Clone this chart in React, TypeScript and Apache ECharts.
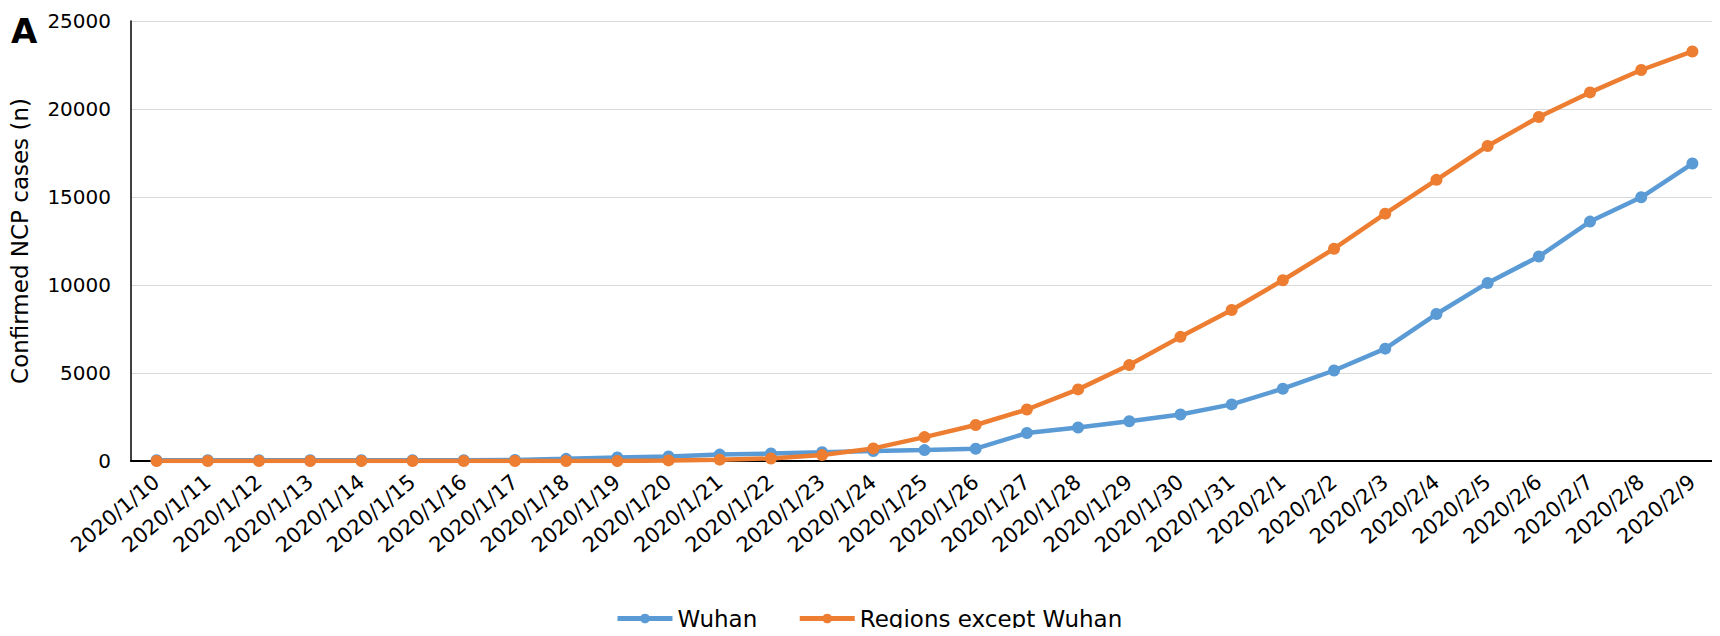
import React, { useEffect, useRef } from "react";
import * as echarts from "echarts";

const categories = [
  "2020/1/10", "2020/1/11", "2020/1/12", "2020/1/13", "2020/1/14", "2020/1/15", "2020/1/16",
  "2020/1/17", "2020/1/18", "2020/1/19", "2020/1/20", "2020/1/21", "2020/1/22", "2020/1/23",
  "2020/1/24", "2020/1/25", "2020/1/26", "2020/1/27", "2020/1/28", "2020/1/29", "2020/1/30",
  "2020/1/31", "2020/2/1", "2020/2/2", "2020/2/3", "2020/2/4", "2020/2/5", "2020/2/6",
  "2020/2/7", "2020/2/8", "2020/2/9",
];

const wuhan = [
  41, 41, 41, 41, 41, 41, 45, 62, 121, 198, 258, 363, 425, 495, 572, 618, 698, 1590, 1905,
  2261, 2639, 3215, 4109, 5142, 6384, 8351, 10117, 11618, 13603, 14982, 16902,
];

const regionsExceptWuhan = [
  0, 0, 0, 0, 0, 0, 0, 0, 0, 3, 33, 77, 146, 335, 715, 1357, 2046, 2925, 4069, 5450, 7053,
  8576, 10271, 12063, 14054, 15973, 17901, 19543, 20943, 22216, 23269,
];

const yTicks = [0, 5000, 10000, 15000, 20000, 25000];

const FONT = "DejaVu Sans";

export default function App() {
  const ref = useRef<HTMLDivElement>(null);
  useEffect(() => {
    if (!ref.current) return;
    const chart = echarts.init(ref.current, null, { renderer: "svg" });
    chart.setOption({
      animation: false,
      backgroundColor: "#ffffff",
      grid: { left: 128, right: 2, top: 21, bottom: 175, containLabel: false },
      legend: {
        left: 615,
        top: 607,
        padding: 0,
        itemGap: 40,
        itemWidth: 55,
        itemHeight: 12,
        lineStyle: { width: 5 },
        textStyle: { fontFamily: FONT, fontSize: 23, color: "#000" },
        data: ["Wuhan", "Regions except Wuhan"],
      },
      graphic: [
        {
          type: "text",
          left: 11,
          top: 14,
          style: { text: "A", fontFamily: FONT, fontSize: 34, fontWeight: "bold", fill: "#000" },
        },
      ],
      xAxis: {
        type: "category",
        data: categories,
        boundaryGap: true,
        axisLine: { lineStyle: { color: "#000", width: 2 } },
        axisTick: { show: false },
        axisLabel: {
          interval: 0,
          rotate: 40,
          margin: 18,
          fontFamily: FONT,
          fontSize: 21,
          color: "#000",
        },
      },
      yAxis: {
        type: "value",
        min: yTicks[0],
        max: yTicks[yTicks.length - 1],
        interval: 5000,
        name: "Confirmed NCP cases (n)",
        nameLocation: "middle",
        nameGap: 100,
        nameTextStyle: { fontFamily: FONT, fontSize: 23, color: "#000" },
        axisLine: { show: true, lineStyle: { color: "#000", width: 1.5 } },
        axisTick: { show: false },
        axisLabel: {
          margin: 20,
          fontFamily: FONT,
          fontSize: 20,
          color: "#000",
          formatter: (v: number) => String(v),
        },
        splitLine: { lineStyle: { color: "#d9d9d9", width: 1.2 } },
      },
      series: [
        {
          name: "Wuhan",
          type: "line",
          data: wuhan,
          symbol: "circle",
          symbolSize: 12,
          itemStyle: { color: "#5B9BD5" },
          lineStyle: { color: "#5B9BD5", width: 4.5 },
        },
        {
          name: "Regions except Wuhan",
          type: "line",
          data: regionsExceptWuhan,
          symbol: "circle",
          symbolSize: 12,
          itemStyle: { color: "#ED7D31" },
          lineStyle: { color: "#ED7D31", width: 4.5 },
        },
      ],
    });
    return () => chart.dispose();
  }, []);
  return <div ref={ref} style={{ width: 1720, height: 636, margin: -8 }} />;
}
